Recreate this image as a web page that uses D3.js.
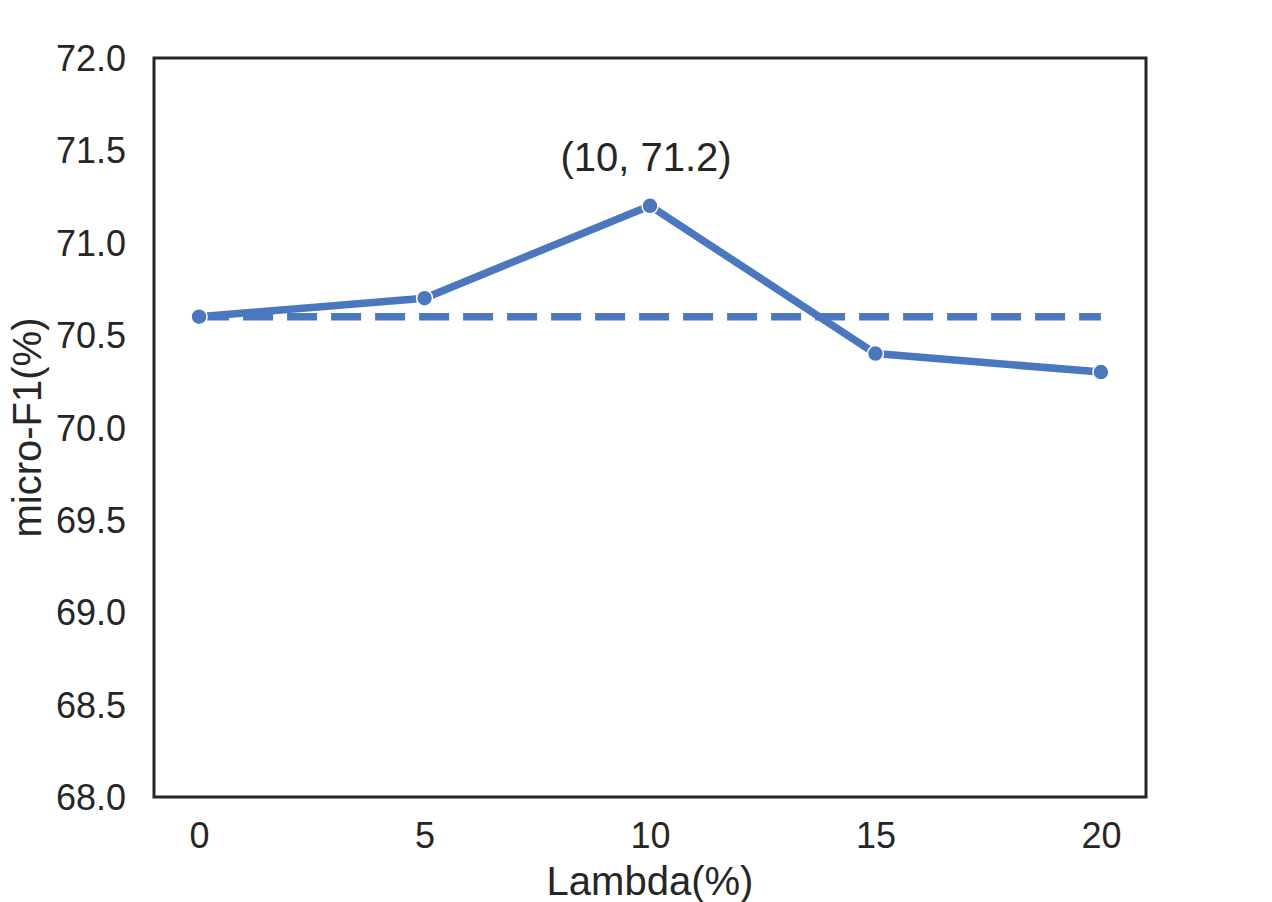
<!DOCTYPE html>
<html>
<head>
<meta charset="utf-8">
<script src="https://cdn.jsdelivr.net/npm/d3@7"></script>
<style>
  body { margin: 0; background: #fff; }
  text { font-family: "Liberation Sans", Arial, sans-serif; fill: #262626; }
</style>
</head>
<body>
<svg id="chart" width="1272" height="902"></svg>
<script>
// values
var lambdas = [0, 5, 10, 15, 20],
    micro_f1 = [70.6, 70.7, 71.2, 70.4, 70.3],
    baseline = 70.6,
    y_ticks = [68.0, 68.5, 69.0, 69.5, 70.0, 70.5, 71.0, 71.5, 72.0],
    x_ticks = [0, 5, 10, 15, 20],
    peak = { x: 10, y: 71.2, label: "(10, 71.2)" };

var blue = "#4a77be",
    ink = "#262626";

var svg = d3.select("#chart");

// plot box (don't use "top": it's window.top)
var box_left = 154, box_right = 1146, box_top = 58, box_bottom = 797;

var x = d3.scaleLinear().domain([-1, 21]).range([box_left, box_right]);
var y = d3.scaleLinear().domain([68, 72]).range([box_bottom, box_top]);

// axes, no tick marks (seaborn white)
var xAxis = svg.append("g")
    .attr("transform", `translate(0,${box_bottom})`)
    .call(d3.axisBottom(x).tickValues(x_ticks).tickSize(0).tickFormat(d3.format("d")));
var yAxis = svg.append("g")
    .attr("transform", `translate(${box_left},0)`)
    .call(d3.axisLeft(y).tickValues(y_ticks).tickSize(0).tickPadding(28).tickFormat(d3.format(".1f")));

[xAxis, yAxis].forEach(function (g) {
    g.select(".domain").remove();
    g.selectAll("text").attr("fill", ink).style("font-size", "36px")
        .style("font-family", "'Liberation Sans', Arial, sans-serif");
});
xAxis.selectAll("text").attr("y", 51).attr("dy", 0);
yAxis.selectAll("text").attr("dy", "0.35em");

// dashed baseline
svg.append("line")
    .attr("x1", x(lambdas[0])).attr("x2", x(lambdas[lambdas.length - 1]))
    .attr("y1", y(baseline)).attr("y2", y(baseline))
    .attr("stroke", blue).attr("stroke-width", 7.5)
    .attr("stroke-dasharray", "30,14");

// main line
var line = d3.line().x(function (d, i) { return x(lambdas[i]); }).y(function (d) { return y(d); });
svg.append("path")
    .datum(micro_f1)
    .attr("d", line)
    .attr("fill", "none")
    .attr("stroke", blue)
    .attr("stroke-width", 7.5)
    .attr("stroke-linejoin", "round");

svg.selectAll("circle.pt").data(micro_f1).enter().append("circle")
    .attr("class", "pt")
    .attr("cx", function (d, i) { return x(lambdas[i]); })
    .attr("cy", function (d) { return y(d); })
    .attr("r", 8)
    .attr("fill", blue)
    .attr("stroke", "#fff")
    .attr("stroke-width", 1.5);

// annotation
svg.append("text")
    .attr("x", x(peak.x) - 4)
    .attr("y", y(peak.y) - 35)
    .attr("text-anchor", "middle")
    .style("font-size", "40px")
    .text(peak.label);

// frame
svg.append("rect")
    .attr("x", box_left).attr("y", box_top)
    .attr("width", box_right - box_left).attr("height", box_bottom - box_top)
    .attr("fill", "none").attr("stroke", ink).attr("stroke-width", 3);

// axis labels
svg.append("text")
    .attr("x", (box_left + box_right) / 2).attr("y", 895)
    .attr("text-anchor", "middle")
    .style("font-size", "40px")
    .text("Lambda(%)");

svg.append("text")
    .attr("transform", `translate(41,${(box_top + box_bottom) / 2}) rotate(-90)`)
    .attr("text-anchor", "middle")
    .style("font-size", "40px")
    .text("micro-F1(%)");
</script>
</body>
</html>
